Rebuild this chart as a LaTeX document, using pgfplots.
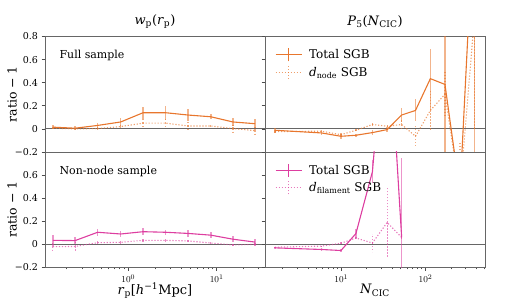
\documentclass[border=0pt]{standalone}
\usepackage{pgfplots}
\pgfplotsset{compat=1.18}
\usepackage{fontspec}
\setmainfont{DejaVu Serif}
\definecolor{cor}{HTML}{E8762D}
\definecolor{cpk}{HTML}{DD3EA0}
\begin{document}
\begin{tikzpicture}
\useasboundingbox (0,0) rectangle (509pt,307pt);
% top left
\begin{axis}[scale only axis, width=220pt, height=115.5pt, xmode=log,
  ymin=-0.2, ymax=0.8, axis line style={black!60, line width=0.7pt},
  tick style={black!70, line width=0.6pt}, tick align=outside,
  ytick pos=left, major tick length=3.5pt,
  ytick={-0.2,0,0.2,0.4,0.6,0.8},
  yticklabels={−0.2,0,0.2,0.4,0.6,0.8},
  tick label style={font=\fontsize{9.5}{10}\selectfont},
  xmin=0.114, xmax=35.3, xtick=\empty,
  at={(45pt,155pt)}, anchor=south west,
  ylabel={ratio − 1},
  ylabel style={at={(axis description cs:-0.15,0.5)}, anchor=center, font=\fontsize{12.5}{13}\selectfont},
  title={\textit{w}\textsubscript{p}(\textit{r}\textsubscript{p})},
  title style={at={(axis description cs:0.5,1)}, anchor=south, yshift=-1pt, font=\fontsize{13}{14}\selectfont}]
\addplot[black!60, line width=0.8pt, forget plot] coordinates {(0.01,0) (1000,0)};
\addplot[color=cor, line width=1.1pt, no markers,
  error bars/.cd, y dir=both, y explicit, error mark=none,
  error bar style={color=cor, opacity=0.55, line width=1.4pt, solid}] coordinates {
(0.14,0.015) +- (0,0.02) (0.25,0.006) +- (0,0.015) (0.45,0.03) +- (0,0.02)
(0.82,0.06) +- (0,0.035) (1.47,0.14) +- (0,0.05) (2.65,0.14) +- (0,0.06)
(4.75,0.12) +- (0,0.05) (8.6,0.105) +- (0,0.02) (15.3,0.06) +- (0,0.035)
(27.2,0.045) +- (0,0.04)};
\addplot[color=cor, opacity=0.7, line width=1.1pt, dash pattern=on 1.2pt off 1.8pt, no markers,
  error bars/.cd, y dir=both, y explicit, error mark=none,
  error bar style={color=cor, opacity=0.6, line width=1.2pt, dash pattern=on 1.2pt off 1.8pt}] coordinates {
(0.14,0.006) +- (0,0.015) (0.25,0.0) +- (0,0.015) (0.45,0.003) +- (0,0.015)
(0.82,0.02) +- (0,0.02) (1.47,0.05) +- (0,0.04) (2.65,0.05) +- (0,0.05)
(4.75,0.025) +- (0,0.035) (8.6,0.025) +- (0,0.02) (15.3,0.003) +- (0,0.03)
(27.2,-0.015) +- (0,0.03)};
\node[anchor=west, font=\fontsize{11}{12}\selectfont] at (axis description cs:0.05,0.84) {Full sample};
\end{axis}
% bottom left
\begin{axis}[scale only axis, width=220pt, height=115.5pt, xmode=log,
  ymin=-0.2, ymax=0.8, axis line style={black!60, line width=0.7pt},
  tick style={black!70, line width=0.6pt}, tick align=outside,
  xtick pos=left, ytick pos=left, major tick length=3.5pt, minor tick length=2pt,
  ytick={-0.2,0,0.2,0.4,0.6},
  yticklabels={−0.2,0,0.2,0.4,0.6},
  tick label style={font=\fontsize{9.5}{10}\selectfont},
  xmin=0.114, xmax=35.3, xtick={1,10}, xticklabels={$10^{0}$,$10^{1}$},
  minor xtick={0.2,0.3,0.4,0.5,0.6,0.7,0.8,0.9,2,3,4,5,6,7,8,9,20,30},
  at={(45pt,39.5pt)}, anchor=south west,
  ylabel={ratio − 1},
  ylabel style={at={(axis description cs:-0.15,0.5)}, anchor=center, font=\fontsize{12.5}{13}\selectfont},
  xlabel={\textit{r}\textsubscript{p}[\textit{h}\textsuperscript{−1}Mpc]},
  xlabel style={at={(axis description cs:0.5,-0.2)}, anchor=center, font=\fontsize{13}{14}\selectfont}]
\addplot[black!60, line width=0.8pt, forget plot] coordinates {(0.01,0) (1000,0)};
\addplot[color=cpk, line width=1.1pt, no markers,
  error bars/.cd, y dir=both, y explicit, error mark=none,
  error bar style={color=cpk, opacity=0.55, line width=1.4pt, solid}] coordinates {
(0.14,0.035) +- (0,0.05) (0.25,0.033) +- (0,0.03) (0.45,0.105) +- (0,0.03)
(0.82,0.09) +- (0,0.03) (1.47,0.11) +- (0,0.03) (2.65,0.105) +- (0,0.02)
(4.75,0.095) +- (0,0.03) (8.6,0.08) +- (0,0.025) (15.3,0.045) +- (0,0.025)
(27.2,0.02) +- (0,0.025)};
\addplot[color=cpk, opacity=0.7, line width=1.1pt, dash pattern=on 1.2pt off 1.8pt, no markers,
  error bars/.cd, y dir=both, y explicit, error mark=none,
  error bar style={color=cpk, opacity=0.6, line width=1.2pt, dash pattern=on 1.2pt off 1.8pt}] coordinates {
(0.14,-0.02) +- (0,0.04) (0.25,-0.018) +- (0,0.04) (0.45,0.015) +- (0,0.02)
(0.82,0.018) +- (0,0.02) (1.47,0.035) +- (0,0.02) (2.65,0.035) +- (0,0.02)
(4.75,0.03) +- (0,0.02) (8.6,0.012) +- (0,0.02) (15.3,-0.005) +- (0,0.02)
(27.2,0.0) +- (0,0.02)};
\node[anchor=west, font=\fontsize{11}{12}\selectfont] at (axis description cs:0.05,0.83) {Non-node sample};
\end{axis}
% top right
\begin{axis}[scale only axis, width=220pt, height=115.5pt, xmode=log,
  ymin=-0.2, ymax=0.8, axis line style={black!60, line width=0.7pt},
  tick style={black!70, line width=0.6pt}, tick align=outside,
  ytick pos=left, major tick length=3.5pt,
  ytick={-0.2,0,0.2,0.4,0.6,0.8}, yticklabels={},
  xmin=1.24, xmax=508, xtick=\empty,
  at={(265pt,155pt)}, anchor=south west,
  title={\textit{P}\textsubscript{5}(\textit{N}\textsubscript{CIC})},
  title style={at={(axis description cs:0.5,1)}, anchor=south, yshift=-1pt, font=\fontsize{13}{14}\selectfont},
  legend cell align=left,
  legend style={at={(0.04,0.915)}, anchor=north west, draw=none, fill=none, font=\fontsize{12}{13}\selectfont, row sep=3pt, column sep=5pt, inner sep=1pt},
  legend image code/.code={\draw[#1] (0pt,0pt) -- (26pt,0pt); \draw[#1, line width=1.3pt] (13pt,-6.5pt) -- (13pt,6.5pt);}]
\addplot[black!60, line width=0.8pt, forget plot] coordinates {(0.1,0) (10000,0)};
\addplot[color=cor, line width=1.1pt, no markers,
  error bars/.cd, y dir=both, y explicit, error mark=none,
  error bar style={color=cor, opacity=0.55, line width=1.4pt, solid}] coordinates {
(1.63,-0.012) +- (0,0.02) (5.8,-0.035) +- (0,0.015) (9.9,-0.064) +- (0,0.02)
(14.9,-0.055) +- (0,0.015) (23.4,-0.032) +- (0,0.02) (35,-0.006) +- (0,0.02)
(52,0.12) +- (0,0.06) (76,0.16) +- (0,0.095) (114,0.435) +- (0,0.26)
(170,0.385) +- (0,1.5) (256,-0.55) +- (0,0.3) (384,2.0) +- (0,3.0)};
\addlegendentry{Total SGB}
\addplot[color=cor, opacity=0.7, line width=1.1pt, dash pattern=on 1.2pt off 1.8pt, no markers,
  error bars/.cd, y dir=both, y explicit, error mark=none,
  error bar style={color=cor, opacity=0.6, line width=1.2pt, dash pattern=on 1.2pt off 1.8pt}] coordinates {
(1.63,-0.023) +- (0,0.015) (5.8,-0.02) +- (0,0.015) (9.9,-0.05) +- (0,0.015)
(14.9,-0.012) +- (0,0.015) (23.4,0.038) +- (0,0.02) (35,0.023) +- (0,0.02)
(52,0.038) +- (0,0.04) (76,-0.064) +- (0,0.094) (114,0.16) +- (0,0.17)
(170,0.3) +- (0,0.2) (256,-0.55) +- (0,0.44) (384,1.0) +- (0,1.0)};
\addlegendentry{\textit{d}\textsubscript{node} SGB}
\end{axis}
% bottom right
\begin{axis}[scale only axis, width=220pt, height=115.5pt, xmode=log,
  ymin=-0.2, ymax=0.8, axis line style={black!60, line width=0.7pt},
  tick style={black!70, line width=0.6pt}, tick align=outside,
  xtick pos=left, ytick pos=left, major tick length=3.5pt, minor tick length=2pt,
  ytick={-0.2,0,0.2,0.4,0.6}, yticklabels={},
  tick label style={font=\fontsize{9.5}{10}\selectfont},
  xmin=1.24, xmax=508, xtick={10,100}, xticklabels={$10^{1}$,$10^{2}$},
  minor xtick={2,3,4,5,6,7,8,9,20,30,40,50,60,70,80,90,200,300,400,500},
  at={(265pt,39.5pt)}, anchor=south west,
  xlabel={\textit{N}\textsubscript{CIC}},
  xlabel style={at={(axis description cs:0.5,-0.2)}, anchor=center, font=\fontsize{13}{14}\selectfont},
  legend cell align=left,
  legend style={at={(0.04,0.915)}, anchor=north west, draw=none, fill=none, font=\fontsize{12}{13}\selectfont, row sep=3pt, column sep=5pt, inner sep=1pt},
  legend image code/.code={\draw[#1] (0pt,0pt) -- (26pt,0pt); \draw[#1, line width=1.3pt] (13pt,-6.5pt) -- (13pt,6.5pt);}]
\addplot[black!60, line width=0.8pt, forget plot] coordinates {(0.1,0) (10000,0)};
\addplot[color=cpk, line width=1.1pt, no markers,
  error bars/.cd, y dir=both, y explicit, error mark=none,
  error bar style={color=cpk, opacity=0.55, line width=1.4pt, solid}] coordinates {
(1.63,-0.03) +- (0,0.01) (5.8,-0.044) +- (0,0.01) (9.9,-0.053) +- (0,0.01)
(14.9,0.094) +- (0,0.035) (23.4,0.63) +- (0,0.1) (35,2.13) +- (0,0.5)
(52,0.06) +- (0,0.69)};
\addlegendentry{Total SGB}
\addplot[color=cpk, opacity=0.7, line width=1.1pt, dash pattern=on 1.2pt off 1.8pt, no markers,
  error bars/.cd, y dir=both, y explicit, error mark=none,
  error bar style={color=cpk, opacity=0.6, line width=1.2pt, dash pattern=on 1.2pt off 1.8pt}] coordinates {
(1.63,-0.024) +- (0,0.005) (5.8,-0.015) +- (0,0.005) (9.9,0.01) +- (0,0.01)
(14.9,0.055) +- (0,0.02) (23.4,0.012) +- (0,0.078) (35,0.19) +- (0,0.295)
(52,0.06) +- (0,0.02)};
\addlegendentry{\textit{d}\textsubscript{filament} SGB}
\end{axis}
\end{tikzpicture}
\end{document}
